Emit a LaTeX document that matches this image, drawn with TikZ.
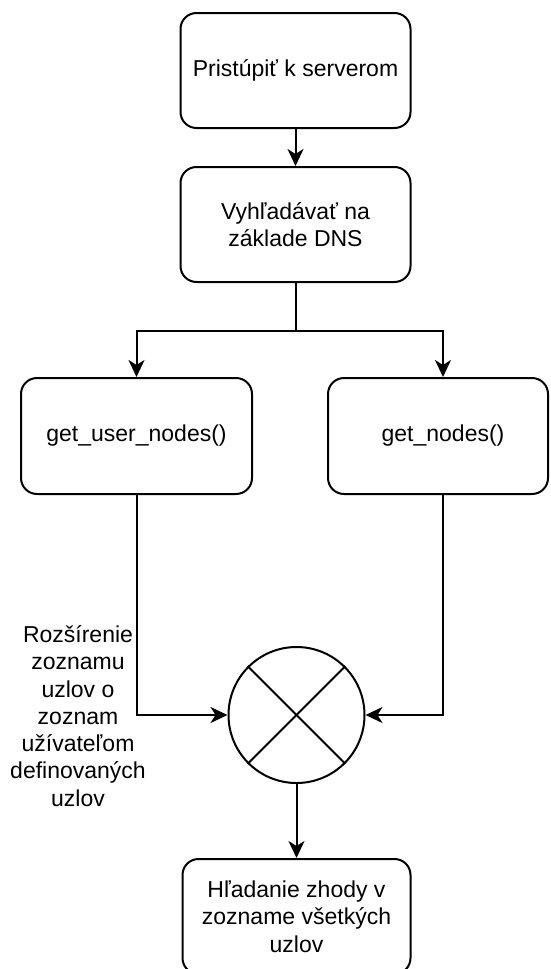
\documentclass[tikz,border=0pt]{standalone}
\usepackage{fontspec}
\setmainfont{Liberation Sans}
\usetikzlibrary{arrows.meta}
\begin{document}
\begin{tikzpicture}[x=1pt,y=-1pt,
  txt/.style={align=center, font=\fontsize{23}{27.3}\selectfont},
  box/.style={txt, draw, line width=2pt, rounded corners=16pt, inner sep=0pt},
  wire/.style={line width=2pt},
  flow/.style={wire, -{Stealth[length=17pt,width=16pt,inset=5pt]}}]
\useasboundingbox (0,0) rectangle (550,969);

% process steps
\node[box, minimum width=230pt, minimum height=115pt] (access) at (295.5,70.5) {Pristúpiť k serverom};
\node[box, minimum width=230pt, minimum height=115pt] (dns) at (295.5,224.5) {Vyhľadávať na\\základe DNS};
\node[box, minimum width=231pt, minimum height=116pt] (user) at (136.5,436) {get\_user\_nodes()};
\node[box, minimum width=220pt, minimum height=116pt] (nodes) at (438,436) {\hspace*{10pt}get\_nodes()};
\node[box, minimum width=228pt, minimum height=115pt] (search) at (296.5,916.5) {Hľadanie zhody v\\zozname všetkých\\uzlov};

% merge junction
\node[draw, circle, line width=2pt, minimum size=136pt, inner sep=0pt] (mix) at (296.5,715) {};
\draw[wire] (mix.north west) -- (mix.south east);
\draw[wire] (mix.north east) -- (mix.south west);

% side note
\node[txt] (note) at (78,716) {Rozšírenie\\zoznamu\\uzlov o\\zoznam\\užívateľom\\definovaných\\uzlov};

% connectors
\coordinate (split) at (295.5,331);
\draw[flow] (access) -- (dns);
\draw[wire] (dns.south) -- (split);
\draw[flow] (split) -| (user.north);
\draw[flow] (split) -| ([xshift=5pt]nodes.north);
\draw[flow] (user.south) |- (mix.west);
\draw[flow] ([xshift=5pt]nodes.south) |- (mix.east);
\draw[flow] (mix.south) -- (search.north);
\end{tikzpicture}
\end{document}
